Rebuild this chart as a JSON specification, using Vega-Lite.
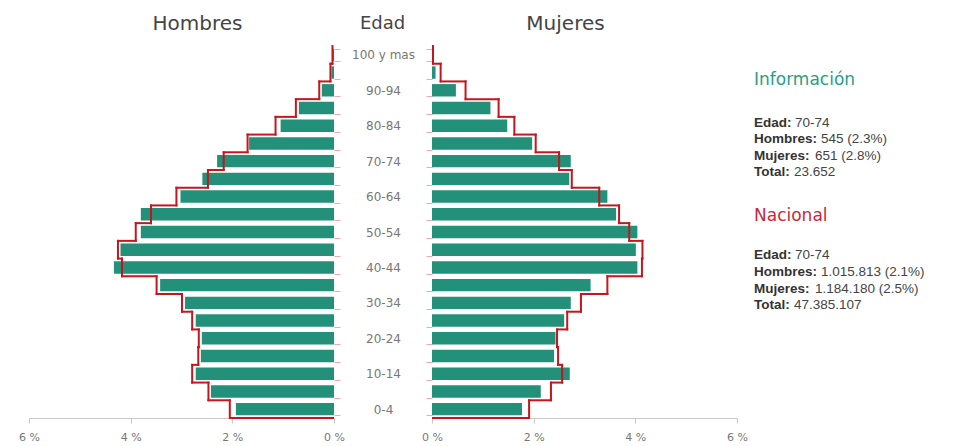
{
  "$schema": "https://vega.github.io/schema/vega-lite/v6.json",
  "background": "white",
  "padding": {"left": 18, "top": 13, "right": 5, "bottom": 5},
  "config": {"view": {"stroke": null}, "font": "DejaVu Sans"},
  "datasets": {
    "pyr": [
      {"age": "0-4", "start": 0, "end": 5, "h": 1.93, "hn": 2.05, "m": 1.77, "mn": 1.91},
      {"age": "5-9", "start": 5, "end": 10, "h": 2.42, "hn": 2.47, "m": 2.14, "mn": 2.34},
      {"age": "10-14", "start": 10, "end": 15, "h": 2.72, "hn": 2.79, "m": 2.71, "mn": 2.56},
      {"age": "15-19", "start": 15, "end": 20, "h": 2.62, "hn": 2.67, "m": 2.40, "mn": 2.48},
      {"age": "20-24", "start": 20, "end": 25, "h": 2.60, "hn": 2.66, "m": 2.43, "mn": 2.46},
      {"age": "25-29", "start": 25, "end": 30, "h": 2.72, "hn": 2.79, "m": 2.60, "mn": 2.66},
      {"age": "30-34", "start": 30, "end": 35, "h": 2.93, "hn": 2.99, "m": 2.73, "mn": 2.93},
      {"age": "35-39", "start": 35, "end": 40, "h": 3.42, "hn": 3.49, "m": 3.12, "mn": 3.45},
      {"age": "40-44", "start": 40, "end": 45, "h": 4.33, "hn": 4.17, "m": 4.04, "mn": 4.13},
      {"age": "45-49", "start": 45, "end": 50, "h": 4.20, "hn": 4.25, "m": 4.01, "mn": 4.14},
      {"age": "50-54", "start": 50, "end": 55, "h": 3.80, "hn": 3.90, "m": 4.04, "mn": 3.88},
      {"age": "55-59", "start": 55, "end": 60, "h": 3.80, "hn": 3.60, "m": 3.62, "mn": 3.68},
      {"age": "60-64", "start": 60, "end": 65, "h": 3.02, "hn": 3.10, "m": 3.45, "mn": 3.29},
      {"age": "65-69", "start": 65, "end": 70, "h": 2.59, "hn": 2.48, "m": 2.70, "mn": 2.75},
      {"age": "70-74", "start": 70, "end": 75, "h": 2.30, "hn": 2.17, "m": 2.73, "mn": 2.50},
      {"age": "75-79", "start": 75, "end": 80, "h": 1.67, "hn": 1.70, "m": 1.97, "mn": 2.04},
      {"age": "80-84", "start": 80, "end": 85, "h": 1.05, "hn": 1.15, "m": 1.48, "mn": 1.62},
      {"age": "85-89", "start": 85, "end": 90, "h": 0.69, "hn": 0.75, "m": 1.15, "mn": 1.31},
      {"age": "90-94", "start": 90, "end": 95, "h": 0.24, "hn": 0.29, "m": 0.47, "mn": 0.66},
      {"age": "95-99", "start": 95, "end": 100, "h": 0.05, "hn": 0.07, "m": 0.07, "mn": 0.17},
      {"age": "100 y mas", "start": 100, "end": 105, "h": 0.02, "hn": 0.03, "m": 0.01, "mn": 0.02}
    ],
    "info": [
      {"line": -2.6, "head": "Información"},
      {"line": 0, "label": "Edad:", "value": "70-74"},
      {"line": 1, "label": "Hombres:", "value": "545 (2.3%)"},
      {"line": 2, "label": "Mujeres:", "value": "651 (2.8%)"},
      {"line": 3, "label": "Total:", "value": "23.652"},
      {"line": 5.6, "head": "Nacional"},
      {"line": 8, "label": "Edad:", "value": "70-74"},
      {"line": 9, "label": "Hombres:", "value": "1.015.813 (2.1%)"},
      {"line": 10, "label": "Mujeres:", "value": "1.184.180 (2.5%)"},
      {"line": 11, "label": "Total:", "value": "47.385.107"}
    ]
  },
  "bounds": "flush",
  "spacing": 17,
  "hconcat": [
    {
      "width": 305,
      "height": 372,
      "data": {"name": "pyr"},
      "transform": [{"window": [{"op": "lead", "field": "hn", "as": "hn_next"}], "sort": [{"field": "start", "order": "ascending"}]}],
      "layer": [
        {
          "mark": {"type": "bar", "color": "#23907a"},
          "encoding": {
            "y": {"field": "age", "type": "nominal", "sort": {"field": "start", "op": "min", "order": "descending"},
              "scale": {"paddingInner": 0.3, "paddingOuter": 0.15},
              "axis": {"orient": "right", "title": "Hombres", "titleAngle": 0, "titleX": -137, "titleY": -23, "titleAlign": "center", "titleBaseline": "middle", "titleFontSize": 20, "titleFontWeight": "normal", "titleColor": "#444", "titleFont": "DejaVu Sans",
                "labels": false, "domain": false, "ticks": true, "tickBand": "extent", "tickColor": "#f2a8a8", "tickSize": 6}},
            "x": {"field": "h", "type": "quantitative", "scale": {"domain": [0, 6], "reverse": true, "nice": false},
              "axis": {"title": null, "values": [0, 2, 4, 6], "labelExpr": "datum.value + ' %'", "labelFlush": false, "grid": false, "domainColor": "#c8c8c8", "tickColor": "#c8c8c8", "tickSize": 5, "labelColor": "#777", "labelFontSize": 11, "labelPadding": 8}}
          }
        },
        {
          "mark": {"type": "rule", "color": "#c4161c", "strokeWidth": 2, "strokeCap": "square"},
          "encoding": {
            "x": {"field": "hn", "type": "quantitative"},
            "y": {"field": "start", "type": "quantitative", "scale": {"domain": [0, 105], "nice": false, "zero": true}, "axis": null},
            "y2": {"field": "end"}
          }
        },
        {
          "transform": [{"filter": "isValid(datum.hn_next)"}],
          "mark": {"type": "rule", "color": "#c4161c", "strokeWidth": 2, "strokeCap": "square"},
          "encoding": {
            "x": {"field": "hn", "type": "quantitative"},
            "x2": {"field": "hn_next"},
            "y": {"field": "end", "type": "quantitative", "scale": {"domain": [0, 105], "nice": false, "zero": true}, "axis": null}
          }
        },
        {
          "transform": [{"filter": "datum.start === 0"}],
          "mark": {"type": "rule", "color": "#c4161c", "strokeWidth": 2},
          "encoding": {
            "x": {"field": "hn", "type": "quantitative"},
            "x2": {"datum": 0},
            "y": {"field": "start", "type": "quantitative", "scale": {"domain": [0, 105], "nice": false, "zero": true}, "axis": null}
          }
        }
      ],
      "resolve": {"scale": {"y": "independent"}}
    },
    {
      "width": 386,
      "height": 372,
      "data": {"name": "pyr"},
      "transform": [{"window": [{"op": "lead", "field": "mn", "as": "mn_next"}], "sort": [{"field": "start", "order": "ascending"}]}],
      "layer": [
        {
          "mark": {"type": "bar", "color": "#23907a"},
          "encoding": {
            "y": {"field": "age", "type": "nominal", "sort": {"field": "start", "op": "min", "order": "descending"},
              "scale": {"paddingInner": 0.3, "paddingOuter": 0.15},
              "axis": {"orient": "left", "offset": -81, "title": "Edad", "titleAngle": 0, "titleX": -50, "titleY": -23, "titleAlign": "center", "titleBaseline": "middle", "titleFontSize": 18, "titleFontWeight": "normal", "titleColor": "#444", "titleFont": "DejaVu Sans",
                "labelExpr": "indexof(['0-4','10-14','20-24','30-34','40-44','50-54','60-64','70-74','80-84','90-94','100 y mas'], datum.value) >= 0 ? datum.value : ''",
                "labelAlign": "center", "labelPadding": 43, "labelColor": "#777", "labelFontSize": 12, "labelBaseline": "middle",
                "domain": false, "ticks": true, "tickBand": "extent", "tickColor": "#f2a8a8", "tickSize": 6}},
            "x": {"field": "m", "type": "quantitative", "scale": {"domain": [0, 6], "nice": false, "range": [81, 386]},
              "axis": {"title": "Mujeres", "titleX": 214, "titleY": -395, "titleAlign": "center", "titleBaseline": "middle", "titleFontSize": 20, "titleFontWeight": "normal", "titleColor": "#444", "titleFont": "DejaVu Sans",
                "values": [0, 2, 4, 6], "labelExpr": "datum.value + ' %'", "labelFlush": false, "grid": false, "domainColor": "#c8c8c8", "tickColor": "#c8c8c8", "tickSize": 5, "labelColor": "#777", "labelFontSize": 11, "labelPadding": 8}}
          }
        },
        {
          "mark": {"type": "rule", "color": "#c4161c", "strokeWidth": 2, "strokeCap": "square"},
          "encoding": {
            "x": {"field": "mn", "type": "quantitative"},
            "y": {"field": "start", "type": "quantitative", "scale": {"domain": [0, 105], "nice": false, "zero": true}, "axis": null},
            "y2": {"field": "end"}
          }
        },
        {
          "transform": [{"filter": "isValid(datum.mn_next)"}],
          "mark": {"type": "rule", "color": "#c4161c", "strokeWidth": 2, "strokeCap": "square"},
          "encoding": {
            "x": {"field": "mn", "type": "quantitative"},
            "x2": {"field": "mn_next"},
            "y": {"field": "end", "type": "quantitative", "scale": {"domain": [0, 105], "nice": false, "zero": true}, "axis": null}
          }
        },
        {
          "transform": [{"filter": "datum.start === 0"}],
          "mark": {"type": "rule", "color": "#c4161c", "strokeWidth": 2},
          "encoding": {
            "x": {"field": "mn", "type": "quantitative"},
            "x2": {"datum": 0},
            "y": {"field": "start", "type": "quantitative", "scale": {"domain": [0, 105], "nice": false, "zero": true}, "axis": null}
          }
        }
      ],
      "resolve": {"scale": {"y": "independent"}}
    },
    {
      "width": 200,
      "height": 372,
      "data": {"name": "info"},
      "encoding": {
        "y": {"field": "line", "type": "quantitative", "scale": {"domain": [-4.62, 17.79], "reverse": true, "nice": false, "zero": false}, "axis": null},
        "x": {"value": 0}
      },
      "layer": [
        {
          "transform": [{"filter": "isValid(datum.head)"}],
          "mark": {"type": "text", "align": "left", "baseline": "middle", "font": "DejaVu Sans", "fontSize": 17},
          "encoding": {
            "text": {"field": "head"},
            "color": {"field": "head", "type": "nominal", "scale": {"domain": ["Información", "Nacional"], "range": ["#2a9d86", "#c8283a"]}, "legend": null}
          }
        },
        {
          "transform": [{"filter": "isValid(datum.label)"}],
          "mark": {"type": "text", "align": "left", "baseline": "middle", "font": "Liberation Sans", "fontSize": 13.5, "fontWeight": "bold", "color": "#333"},
          "encoding": {"text": {"field": "label"}}
        },
        {
          "transform": [{"filter": "datum.label === 'Edad:'"}],
          "mark": {"type": "text", "align": "left", "baseline": "middle", "font": "Liberation Sans", "fontSize": 13.5, "color": "#444", "dx": 41},
          "encoding": {"text": {"field": "value"}}
        },
        {
          "transform": [{"filter": "datum.label === 'Hombres:'"}],
          "mark": {"type": "text", "align": "left", "baseline": "middle", "font": "Liberation Sans", "fontSize": 13.5, "color": "#444", "dx": 67},
          "encoding": {"text": {"field": "value"}}
        },
        {
          "transform": [{"filter": "datum.label === 'Mujeres:'"}],
          "mark": {"type": "text", "align": "left", "baseline": "middle", "font": "Liberation Sans", "fontSize": 13.5, "color": "#444", "dx": 61},
          "encoding": {"text": {"field": "value"}}
        },
        {
          "transform": [{"filter": "datum.label === 'Total:'"}],
          "mark": {"type": "text", "align": "left", "baseline": "middle", "font": "Liberation Sans", "fontSize": 13.5, "color": "#444", "dx": 40},
          "encoding": {"text": {"field": "value"}}
        }
      ]
    }
  ]
}
